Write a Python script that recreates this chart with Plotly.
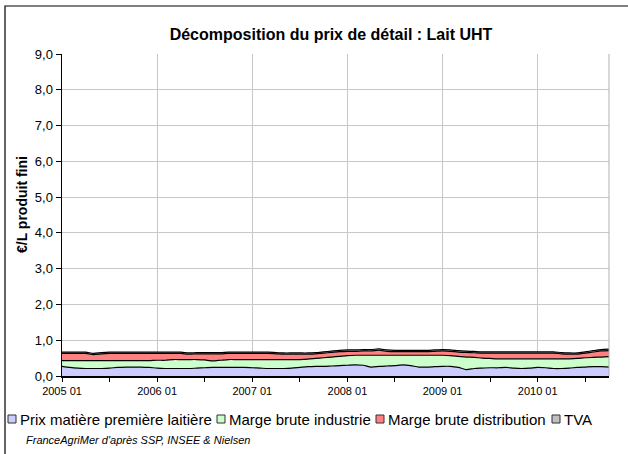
import plotly.graph_objects as go

years = ["2005 01", "2006 01", "2007 01", "2008 01", "2009 01", "2010 01"]
n_months = 70
months = list(range(n_months))

prix_matiere = [0.27, 0.24, 0.22, 0.21, 0.21, 0.21, 0.22, 0.24, 0.25, 0.25, 0.25, 0.24,
                0.22, 0.21, 0.21, 0.21, 0.21, 0.22, 0.23, 0.24, 0.24, 0.24, 0.24, 0.24,
                0.23, 0.22, 0.21, 0.21, 0.21, 0.22, 0.24, 0.26, 0.27, 0.27, 0.28, 0.29,
                0.30, 0.31, 0.30, 0.25, 0.27, 0.28, 0.29, 0.31, 0.29, 0.25, 0.25, 0.26,
                0.27, 0.27, 0.24, 0.18, 0.21, 0.22, 0.23, 0.23, 0.24, 0.22, 0.21, 0.22,
                0.24, 0.23, 0.21, 0.21, 0.22, 0.24, 0.25, 0.26, 0.26, 0.25]
marge_industrie = [0.16, 0.19, 0.21, 0.22, 0.22, 0.22, 0.21, 0.19, 0.18, 0.18, 0.18, 0.19,
                   0.22, 0.23, 0.25, 0.25, 0.25, 0.24, 0.22, 0.18, 0.20, 0.22, 0.22, 0.22,
                   0.23, 0.24, 0.25, 0.25, 0.25, 0.24, 0.22, 0.21, 0.22, 0.24, 0.25, 0.26,
                   0.27, 0.27, 0.28, 0.33, 0.31, 0.30, 0.29, 0.27, 0.29, 0.33, 0.33, 0.32,
                   0.31, 0.30, 0.31, 0.35, 0.31, 0.28, 0.26, 0.25, 0.24, 0.26, 0.27, 0.26,
                   0.24, 0.25, 0.27, 0.27, 0.26, 0.25, 0.26, 0.26, 0.27, 0.29]
marge_distribution = [0.20, 0.20, 0.20, 0.20, 0.17, 0.19, 0.20, 0.20, 0.20, 0.20, 0.20, 0.20,
                      0.19, 0.19, 0.17, 0.17, 0.15, 0.16, 0.17, 0.20, 0.18, 0.17, 0.17, 0.17,
                      0.17, 0.17, 0.17, 0.16, 0.15, 0.15, 0.15, 0.14, 0.13, 0.13, 0.13, 0.13,
                      0.12, 0.11, 0.12, 0.12, 0.14, 0.11, 0.10, 0.10, 0.10, 0.10, 0.10, 0.11,
                      0.12, 0.12, 0.12, 0.13, 0.13, 0.14, 0.15, 0.16, 0.16, 0.16, 0.16, 0.16,
                      0.16, 0.16, 0.16, 0.14, 0.13, 0.12, 0.13, 0.15, 0.17, 0.17]
tva = [0.035, 0.035, 0.035, 0.035, 0.034, 0.035, 0.035, 0.035, 0.035, 0.035, 0.035, 0.035,
       0.035, 0.035, 0.035, 0.035, 0.034, 0.034, 0.034, 0.034, 0.034, 0.035, 0.035, 0.035,
       0.035, 0.035, 0.035, 0.034, 0.034, 0.034, 0.034, 0.034, 0.034, 0.035, 0.036, 0.037,
       0.038, 0.038, 0.038, 0.038, 0.039, 0.038, 0.037, 0.037, 0.037, 0.037, 0.037, 0.038,
       0.038, 0.038, 0.037, 0.036, 0.036, 0.035, 0.035, 0.035, 0.035, 0.035, 0.035, 0.035,
       0.035, 0.035, 0.035, 0.034, 0.034, 0.034, 0.035, 0.037, 0.038, 0.039]

series_names = ["Prix matière première laitière", "Marge brute industrie",
                "Marge brute distribution", "TVA"]
series_values = [prix_matiere, marge_industrie, marge_distribution, tva]
series_colors = ["#ccccff", "#ccffcc", "#ff8080", "#c0c0c0"]

FONT = "Liberation Sans, Arial, sans-serif"

W, H = 628, 454
L, R, T, B = 62, 19, 54, 78
pw, ph = W - L - R, H - T - B


def px_x(px):
    return (px - L) / pw


def px_y(py):
    return (H - B - py) / ph


fig = go.Figure()
for name, vals, color in zip(series_names, series_values, series_colors):
    fig.add_trace(go.Scatter(
        x=months, y=vals, name=name, mode="lines",
        stackgroup="one", fillcolor=color, showlegend=False,
        line=dict(color="#000000", width=1.2, shape="spline", smoothing=0.6),
    ))

shapes = [
    dict(type="line", xref="paper", yref="paper", x0=1, x1=1, y0=0, y1=1,
         line=dict(color="#b0b0b0", width=1)),
    dict(type="rect", xref="paper", yref="paper",
         x0=px_x(5), x1=px_x(700), y0=px_y(520), y1=px_y(6),
         line=dict(color="#000000", width=1.2), fillcolor="rgba(0,0,0,0)"),
]
annotations = [
    dict(text="<b>€/L produit fini</b>", textangle=-90, showarrow=False,
         xref="paper", yref="paper", x=px_x(22), y=px_y(205),
         xanchor="center", yanchor="middle",
         font=dict(family=FONT, size=14, color="#000000")),
    dict(text="<i>FranceAgriMer d'après SSP, INSEE & Nielsen</i>", showarrow=False,
         xref="paper", yref="paper", x=px_x(24), y=px_y(440),
         xanchor="left", yanchor="middle",
         font=dict(family=FONT, size=11, color="#000000")),
]

# hand-drawn legend (single row, like the original)
legend_square_left = [8, 217, 376, 552]
legend_y = 419
for name, color, sx in zip(series_names, series_colors, legend_square_left):
    shapes.append(dict(type="rect", xref="paper", yref="paper",
                       x0=px_x(sx), x1=px_x(sx + 8),
                       y0=px_y(legend_y + 4), y1=px_y(legend_y - 4),
                       line=dict(color="#303030", width=1), fillcolor=color))
    annotations.append(dict(text=name, showarrow=False, xref="paper", yref="paper",
                            x=px_x(sx + 10), y=px_y(legend_y),
                            xanchor="left", yanchor="middle",
                            font=dict(family=FONT, size=15, color="#000000")))

fig.update_layout(
    width=W, height=H,
    margin=dict(l=L, r=R, t=T, b=B),
    paper_bgcolor="white", plot_bgcolor="white",
    separators=", ",
    font=dict(family=FONT, size=12, color="#000000"),
    title=dict(text="<b>Décomposition du prix de détail : Lait UHT</b>",
               x=px_x(331), xref="paper", xanchor="center",
               y=1 - 34 / H, yanchor="middle",
               font=dict(family=FONT, size=16, color="#000000")),
    showlegend=False,
    xaxis=dict(
        range=[0, n_months - 1],
        tickmode="array", tickvals=[0, 12, 24, 36, 48, 60], ticktext=years,
        ticks="outside", ticklen=4, tickcolor="#000000",
        minor=dict(tickvals=[6, 18, 30, 42, 54, 66], ticks="outside", ticklen=4,
                   tickcolor="#000000", showgrid=False),
        showgrid=True, gridcolor="#c8c8c8", gridwidth=1,
        showline=True, linecolor="#000000", linewidth=1.5,
        tickfont=dict(family=FONT, size=11),
        zeroline=False, fixedrange=True,
    ),
    yaxis=dict(
        range=[0, 9], tickmode="linear", tick0=0, dtick=1, tickformat=".1f",
        ticks="outside", ticklen=5, tickcolor="#000000",
        showgrid=True, gridcolor="#c8c8c8", gridwidth=1,
        showline=True, linecolor="#000000", linewidth=1.5,
        tickfont=dict(family=FONT, size=13),
        zeroline=False, fixedrange=True,
    ),
    shapes=shapes,
    annotations=annotations,
)

fig.write_html("out.html",
               config={"displayModeBar": False, "staticPlot": True},
               post_script="document.body.style.margin='0';document.body.style.overflow='hidden';")
